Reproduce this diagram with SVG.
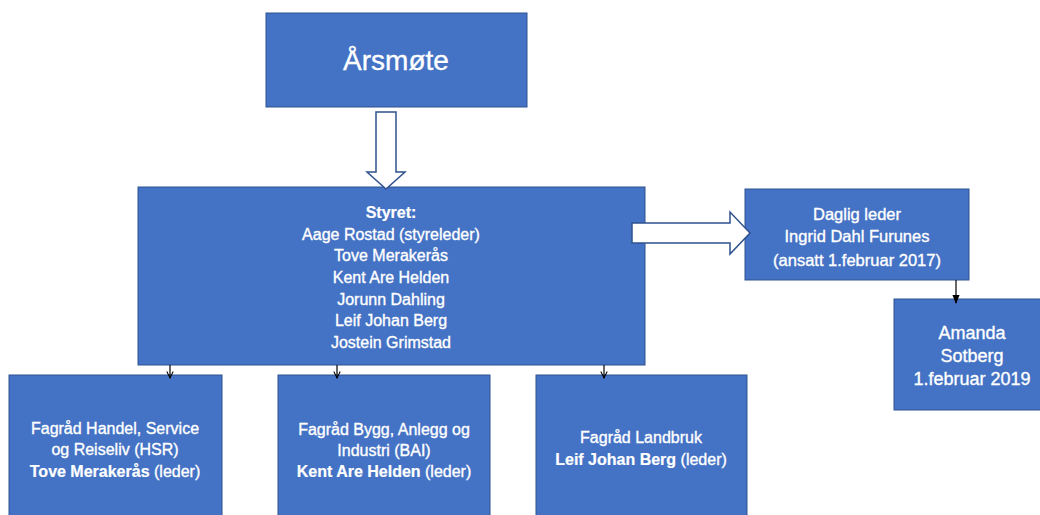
<svg xmlns="http://www.w3.org/2000/svg" width="1040" height="515" viewBox="0 0 1040 515">
<style>
.box{fill:#4472C4;stroke:#2F528F;stroke-width:1}
.t{font-family:"Liberation Sans",Arial,sans-serif;fill:#fff;stroke:#fff;stroke-width:0.35;text-anchor:middle;font-size:16px}
.b{font-weight:bold;stroke-width:0.2}
.hollow{fill:#fff;stroke:#2F528F;stroke-width:1.5;stroke-linejoin:miter}
.thin{stroke:#000;stroke-width:1.2;fill:none}
</style>
<defs>
<marker id="v" viewBox="0 0 10 10" refX="9" refY="5" markerWidth="8" markerHeight="8" markerUnits="userSpaceOnUse" orient="auto">
<path d="M1,1 L9,5 L1,9" fill="none" stroke="#000" stroke-width="1.3"/>
</marker>
<marker id="f" viewBox="0 0 10 10" refX="9" refY="5" markerWidth="9" markerHeight="9" markerUnits="userSpaceOnUse" orient="auto">
<path d="M0,1 L10,5 L0,9 Z" fill="#000"/>
</marker>
</defs>

<g id="arsmote">
<rect class="box" x="266" y="13" width="261" height="94"/>
<text class="t" x="396" y="70" style="font-size:28px">Årsmøte</text>
</g>

<g id="styret">
<rect class="box" x="138" y="187" width="507" height="178"/>
<text class="t" x="391" y="218"><tspan class="b">Styret:</tspan></text>
<text class="t" x="391" y="240">Aage Rostad (styreleder)</text>
<text class="t" x="391" y="261">Tove Merakerås</text>
<text class="t" x="391" y="283">Kent Are Helden</text>
<text class="t" x="391" y="305">Jorunn Dahling</text>
<text class="t" x="391" y="326">Leif Johan Berg</text>
<text class="t" x="391" y="348">Jostein Grimstad</text>
</g>

<g id="daglig">
<rect class="box" x="745" y="189" width="224" height="91"/>
<text class="t" x="857" y="220" style="font-size:16.5px">Daglig leder</text>
<text class="t" x="857" y="242" style="font-size:16.5px">Ingrid Dahl Furunes</text>
<text class="t" x="857" y="266" style="font-size:16.5px">(ansatt 1.februar 2017)</text>
</g>

<g id="amanda">
<rect class="box" x="894" y="299" width="150" height="111"/>
<text class="t" x="972" y="339" style="font-size:18px">Amanda</text>
<text class="t" x="972" y="362" style="font-size:18px">Sotberg</text>
<text class="t" x="972" y="385" style="font-size:18px">1.februar 2019</text>
</g>

<g id="hsr">
<rect class="box" x="9" y="375" width="213" height="145"/>
<text class="t" x="115" y="434">Fagråd Handel, Service</text>
<text class="t" x="115" y="455">og Reiseliv (HSR)</text>
<text class="t" x="115" y="477"><tspan class="b">Tove Merakerås</tspan> (leder)</text>
</g>

<g id="bai">
<rect class="box" x="278" y="375" width="212" height="145"/>
<text class="t" x="384" y="435">Fagråd Bygg, Anlegg og</text>
<text class="t" x="384" y="456">Industri (BAI)</text>
<text class="t" x="384" y="477"><tspan class="b">Kent Are Helden</tspan> (leder)</text>
</g>

<g id="landbruk">
<rect class="box" x="536" y="375" width="211" height="145"/>
<text class="t" x="641" y="443">Fagråd Landbruk</text>
<text class="t" x="641" y="465"><tspan class="b">Leif Johan Berg</tspan> (leder)</text>
</g>

<g id="connectors">
<polygon class="hollow" points="376,112 396,112 396,172 405,172 386,189 367,172 376,172"/>
<polygon class="hollow" points="632,223 730,223 730,212 750,233 730,254 730,243 632,243"/>
<line class="thin" x1="170" y1="365" x2="170" y2="378" marker-end="url(#v)"/>
<line class="thin" x1="337" y1="365" x2="337" y2="378" marker-end="url(#v)"/>
<line class="thin" x1="604" y1="365" x2="604" y2="378" marker-end="url(#v)"/>
<line class="thin" x1="956" y1="280" x2="956" y2="303" marker-end="url(#f)"/>
</g>
</svg>
